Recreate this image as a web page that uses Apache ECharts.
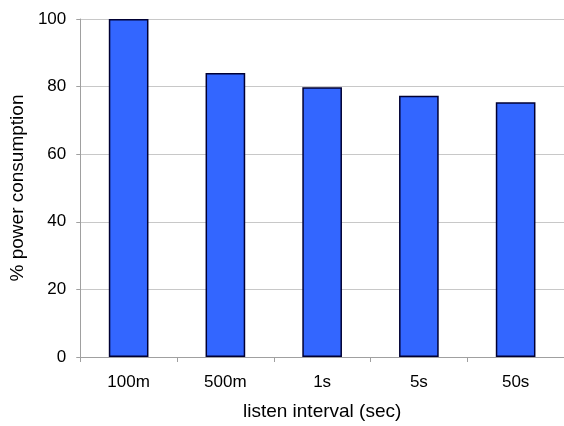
<!DOCTYPE html>
<html><head><meta charset="utf-8">
<script src="https://cdn.jsdelivr.net/npm/echarts@6/dist/echarts.min.js"></script>
<style>html,body{margin:0;padding:0;background:#fff}#c{width:564px;height:426px}</style>
</head><body><div id="c"></div>
<script>
const categories = ['100m', '500m', '1s', '5s', '50s'];
const powerValues = [100, 84, 79.8, 77.3, 75.4];
const yTicks = [0, 20, 40, 60, 80, 100];

const chart = echarts.init(document.getElementById('c'), null, {renderer: 'canvas'});
const font = 'Liberation Sans, Arial, sans-serif';
chart.setOption({
  animation: false,
  backgroundColor: '#fff',
  grid: {left: 79, top: 19, width: 490, height: 338, containLabel: false},
  xAxis: {
    type: 'category',
    data: categories,
    name: 'listen interval (sec)',
    nameLocation: 'middle',
    nameGap: 45,
    nameTextStyle: {fontFamily: font, fontSize: 19, color: '#000'},
    axisLine: {lineStyle: {color: '#a0a0a0', width: 1}},
    axisTick: {show: true, length: 5, lineStyle: {color: '#a0a0a0'}},
    axisLabel: {fontFamily: font, fontSize: 17, color: '#000', margin: 17}
  },
  yAxis: {
    type: 'value',
    min: yTicks[0], max: yTicks[yTicks.length - 1], interval: 20,
    name: '% power consumption',
    nameLocation: 'middle',
    nameGap: 52,
    nameRotate: 90,
    nameTextStyle: {fontFamily: font, fontSize: 19, color: '#000'},
    axisLine: {show: true, lineStyle: {color: '#a0a0a0', width: 1}},
    axisTick: {show: true, length: 4, lineStyle: {color: '#a0a0a0'}},
    axisLabel: {fontFamily: font, fontSize: 17, color: '#000', margin: 14},
    splitLine: {show: true, lineStyle: {color: '#c8c8c8', width: 1}}
  },
  series: [{
    type: 'bar',
    data: powerValues,
    barWidth: '41%',
    itemStyle: {color: '#3366ff', borderColor: '#000033', borderWidth: 1.5}
  }]
});
</script></body></html>
